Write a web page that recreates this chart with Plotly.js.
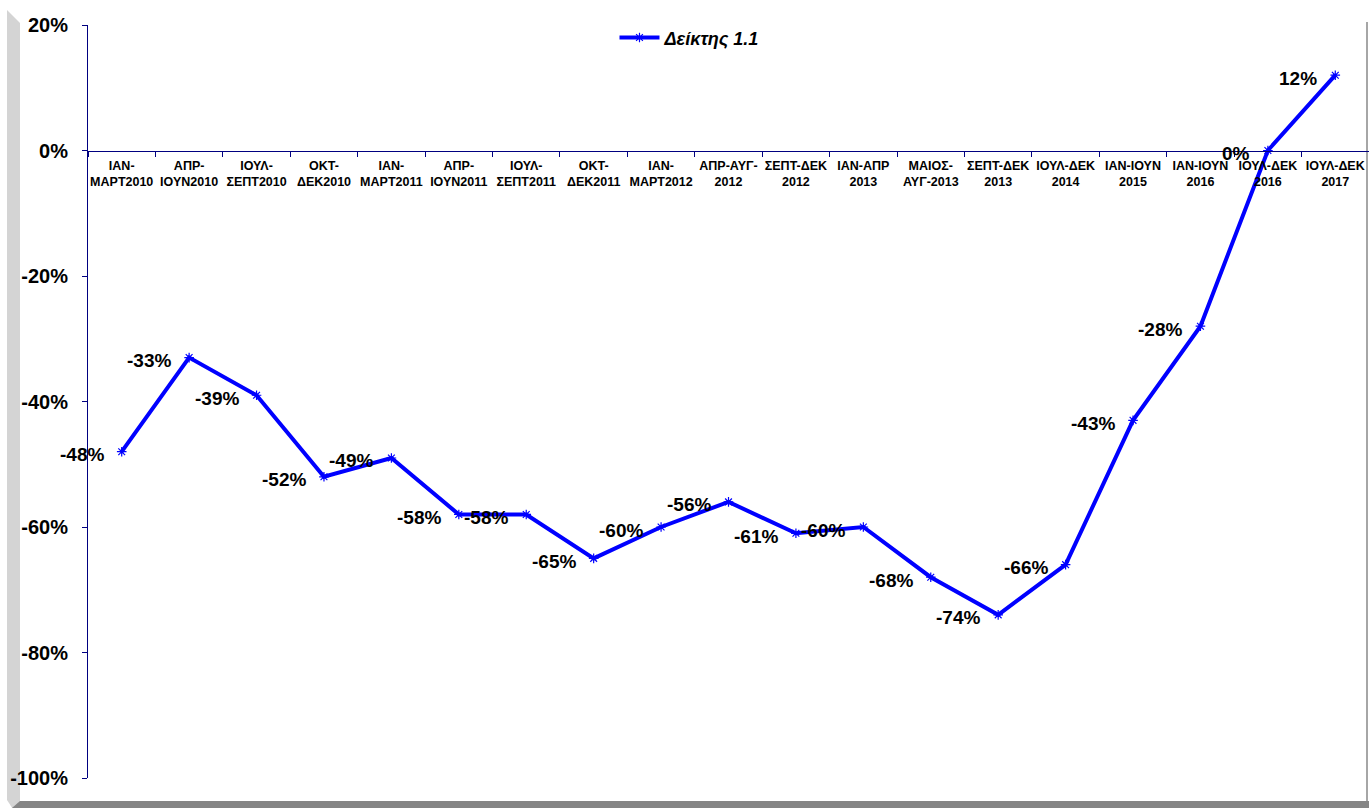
<!DOCTYPE html>
<html>
<head>
<meta charset="utf-8">
<script src="https://cdn.plot.ly/plotly-3.0.1.min.js"></script>
<style>
html,body{margin:0;padding:0;background:#fff;width:1369px;height:808px;overflow:hidden;}
#wrap{position:relative;width:1369px;height:808px;}
.deco{position:absolute;}
#leftStrip{left:7px;top:10px;width:13px;height:798px;background:#d4d4d4;clip-path:polygon(0 0,100% 13px,100% 100%,40% 100%,0 99%);}
#bottomStrip{left:0;top:801px;width:1369px;height:7px;background:#858585;clip-path:polygon(20px 0,100% 0,100% 100%,12px 100%);}
#rightLine{left:1366px;top:22px;width:2px;height:779px;background:#a6a6a6;}
#chart{position:absolute;left:0;top:0;width:1369px;height:808px;}
</style>
</head>
<body>
<div id="wrap">
<div class="deco" id="leftStrip"></div>
<div class="deco" id="bottomStrip"></div>
<div class="deco" id="rightLine"></div>
<div id="chart"></div>
</div>
<script>
const categories = [
  "ΙΑΝ-<br>ΜΑΡΤ2010", "ΑΠΡ-<br>ΙΟΥΝ2010", "ΙΟΥΛ-<br>ΣΕΠΤ2010", "ΟΚΤ-<br>ΔΕΚ2010",
  "ΙΑΝ-<br>ΜΑΡΤ2011", "ΑΠΡ-<br>ΙΟΥΝ2011", "ΙΟΥΛ-<br>ΣΕΠΤ2011", "ΟΚΤ-<br>ΔΕΚ2011",
  "ΙΑΝ-<br>ΜΑΡΤ2012", "ΑΠΡ-ΑΥΓ-<br>2012", "ΣΕΠΤ-ΔΕΚ<br>2012", "ΙΑΝ-ΑΠΡ<br>2013",
  "ΜΑΙΟΣ-<br>ΑΥΓ-2013", "ΣΕΠΤ-ΔΕΚ<br>2013", "ΙΟΥΛ-ΔΕΚ<br>2014", "ΙΑΝ-ΙΟΥΝ<br>2015",
  "ΙΑΝ-ΙΟΥΝ<br>2016", "ΙΟΥΛ-ΔΕΚ<br>2016", "ΙΟΥΛ-ΔΕΚ<br>2017"
];
const values = [-48, -33, -39, -52, -49, -58, -58, -65, -60, -56, -61, -60, -68, -74, -66, -43, -28, 0, 12];
const seriesName = "Δείκτης 1.1";
const yTickVals = [-100, -80, -60, -40, -20, 0, 20];
const yTickText = ["-100%", "-80%", "-60%", "-40%", "-20%", "0%", "20%"];

const FONT = "Arial, 'Liberation Sans', sans-serif";

const trace = {
  x: categories,
  y: values,
  type: "scatter",
  mode: "lines+markers",
  name: seriesName,
  line: {color: "#0000FF", width: 4},
  marker: {symbol: "asterisk-open", size: 8, color: "#0000FF", line: {color: "#0000FF", width: 1.2}},
  hoverinfo: "x+y"
};

const annotations = values.map((v, i) => ({
  x: categories[i],
  y: v,
  xref: "x",
  yref: "y",
  text: "<b>" + v + "%</b>",
  showarrow: false,
  xanchor: "right",
  yanchor: "middle",
  xshift: -16,
  yshift: -3,
  font: {family: FONT, size: 19, color: "#000"}
}));

const layout = {
  width: 1369,
  height: 808,
  margin: {l: 88, r: 0, t: 25, b: 30},
  paper_bgcolor: "rgba(0,0,0,0)",
  plot_bgcolor: "rgba(0,0,0,0)",
  font: {family: FONT, color: "#000"},
  showlegend: true,
  legend: {
    orientation: "h",
    x: 0.411, y: 0.983,
    xanchor: "left", yanchor: "middle",
    itemwidth: 40,
    bgcolor: "rgba(0,0,0,0)",
    font: {family: FONT, size: 18, color: "#000", weight: "bold", style: "italic"}
  },
  xaxis: {
    type: "category",
    range: [-0.5, categories.length - 0.5],
    anchor: "free",
    position: 100 / 120,
    showline: true,
    linecolor: "#000080",
    linewidth: 1,
    ticks: "outside",
    ticklen: 5,
    tickcolor: "#000080",
    tickson: "boundaries",
    showgrid: false,
    zeroline: false,
    tickangle: 0,
    ticklabelstandoff: 3,
    tickfont: {family: FONT, size: 12.5, color: "#000", weight: "bold"},
    fixedrange: true
  },
  yaxis: {
    range: [-100, 20],
    tickvals: yTickVals,
    ticktext: yTickText,
    showline: true,
    linecolor: "#000080",
    linewidth: 1,
    ticks: "outside",
    ticklen: 5,
    tickcolor: "#000080",
    showgrid: false,
    zeroline: false,
    ticklabelstandoff: 10,
    tickfont: {family: FONT, size: 20, color: "#000", weight: "bold"},
    fixedrange: true
  },
  annotations: annotations
};

Plotly.newPlot("chart", [trace], layout, {displayModeBar: false, staticPlot: true});
</script>
</body>
</html>
